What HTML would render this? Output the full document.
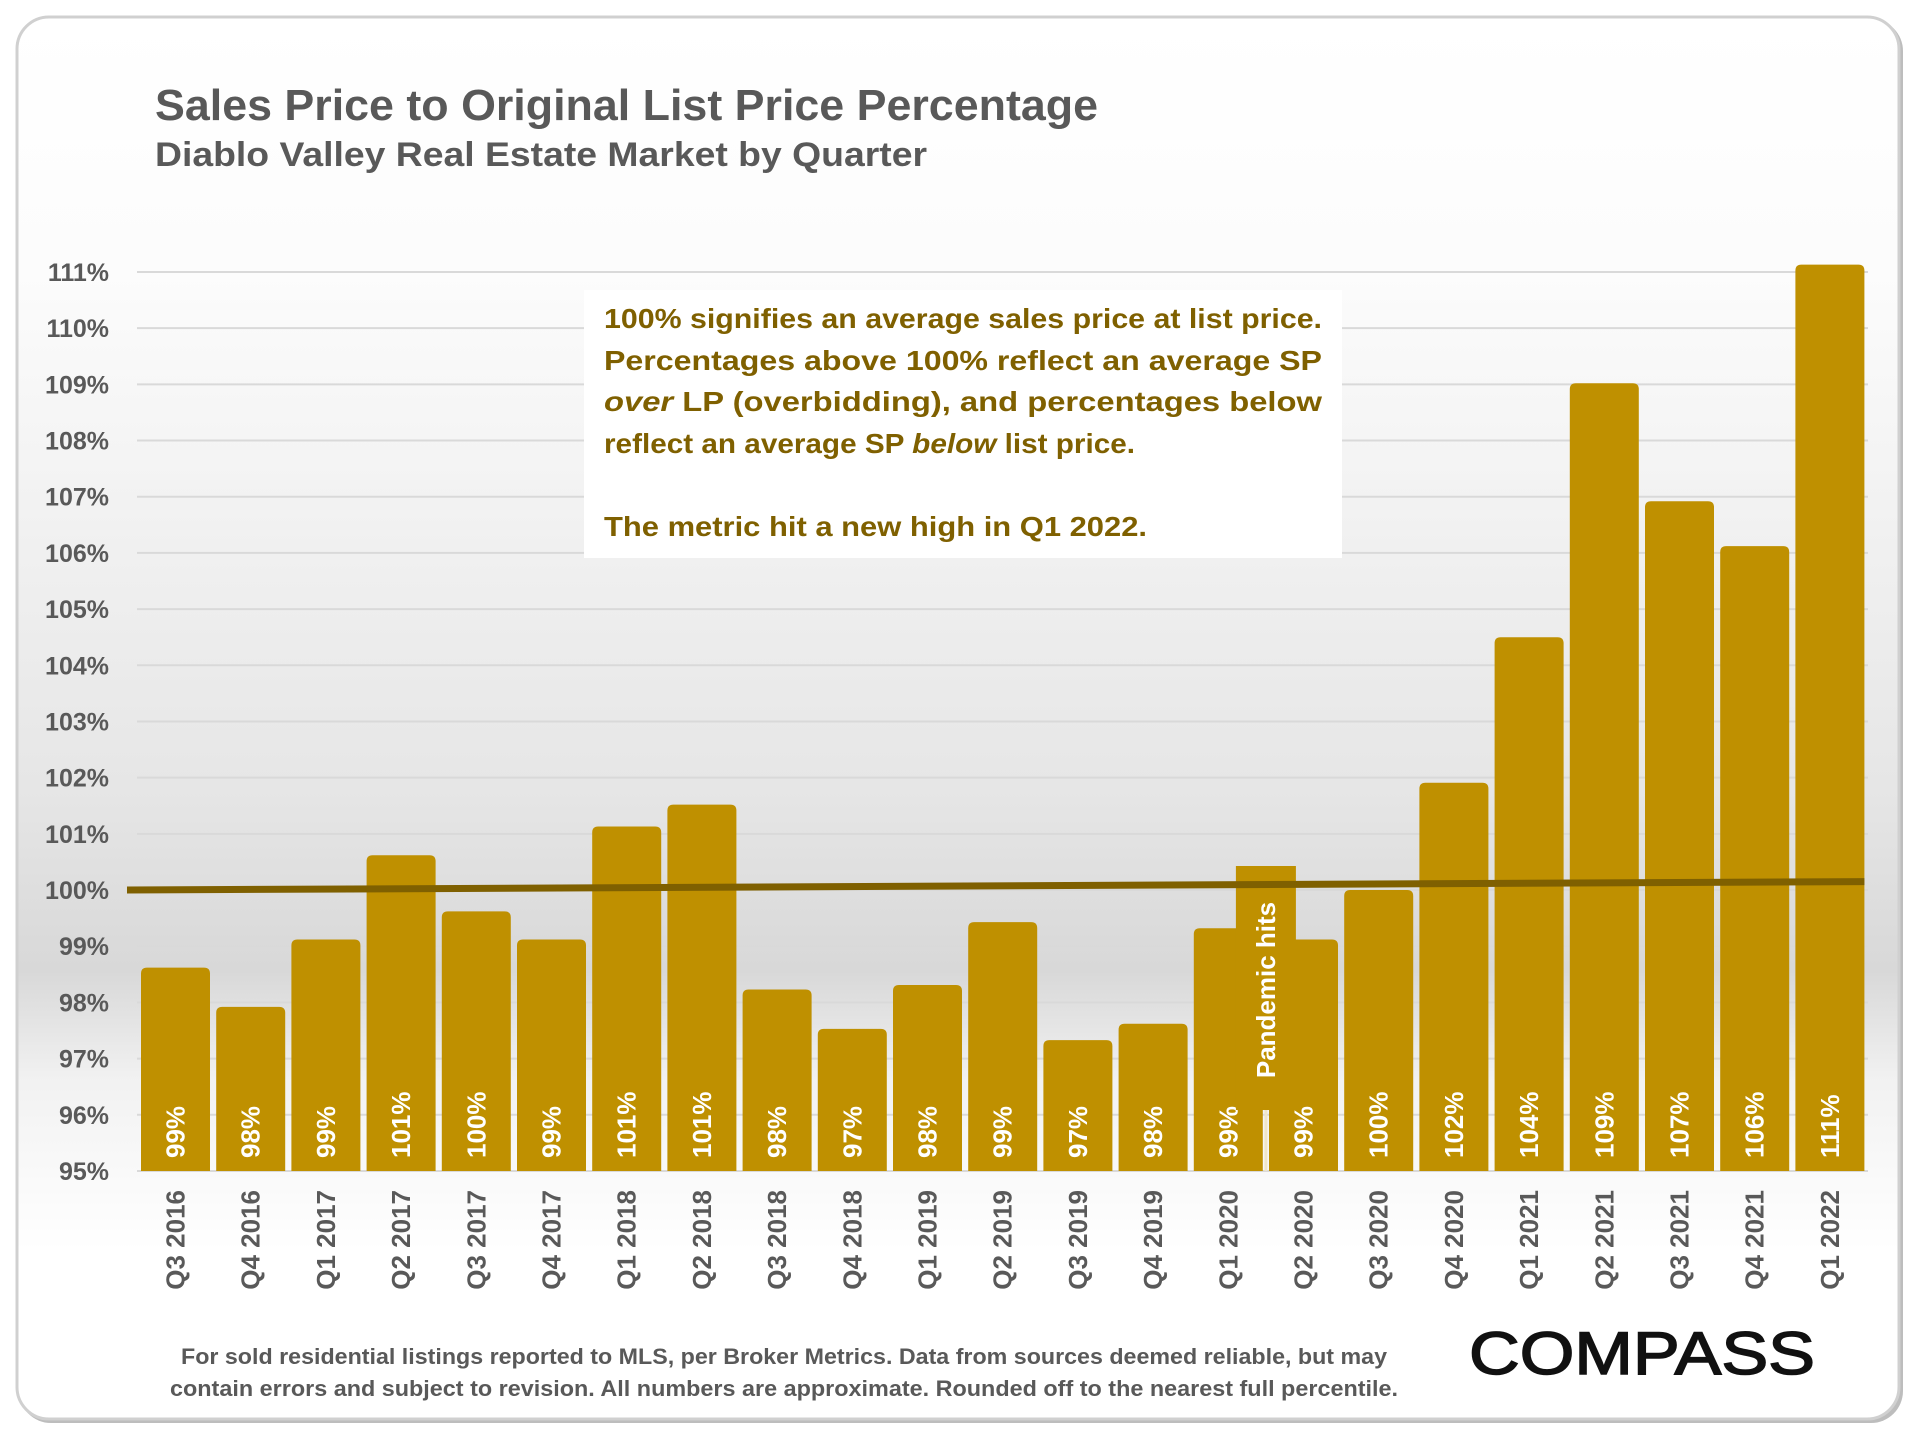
<!DOCTYPE html>
<html><head><meta charset="utf-8">
<style>
html,body{margin:0;padding:0;background:#fff;}
svg{display:block;font-family:"Liberation Sans",sans-serif;}
</style></head>
<body>
<svg id="chart" width="1920" height="1440" viewBox="0 0 1920 1440">
  <defs>
    <linearGradient id="bg" x1="0" y1="0" x2="0" y2="1">
      <stop offset="0" stop-color="#ffffff"/>
      <stop offset="0.18" stop-color="#fcfcfc"/>
      <stop offset="0.55" stop-color="#e6e6e6"/>
      <stop offset="0.68" stop-color="#d8d8d8"/>
      <stop offset="0.76" stop-color="#f2f2f2"/>
      <stop offset="0.88" stop-color="#ffffff"/>
      <stop offset="1" stop-color="#ffffff"/>
    </linearGradient>
  </defs>
  <rect x="19" y="19" width="1884" height="1404" rx="32" fill="#bdbdbd"/>
  <rect x="17" y="17" width="1882" height="1402" rx="32" fill="url(#bg)" stroke="#d0d0d0" stroke-width="3"/>
  <text x="155" y="120" font-size="44" font-weight="bold" fill="#595959" textLength="943" lengthAdjust="spacingAndGlyphs">Sales Price to Original List Price Percentage</text>
  <text x="155" y="166" font-size="34" font-weight="bold" fill="#595959" textLength="772" lengthAdjust="spacingAndGlyphs">Diablo Valley Real Estate Market by Quarter</text>
  <g id="grid"></g>
  <g id="yticks"></g>
  <g id="bars"></g>
  <g id="xlabels"></g>
  <g id="overlay"></g>
  <text x="784" y="1364" font-size="22" font-weight="bold" fill="#595959" text-anchor="middle" textLength="1206" lengthAdjust="spacingAndGlyphs">For sold residential listings reported to MLS, per Broker Metrics. Data from sources deemed reliable, but may</text>
  <text x="784" y="1396" font-size="22" font-weight="bold" fill="#595959" text-anchor="middle" textLength="1228" lengthAdjust="spacingAndGlyphs">contain errors and subject to revision. All numbers are approximate. Rounded off to the nearest full percentile.</text>
  <text x="1469" y="1374" font-size="60" fill="#111" stroke="#111" stroke-width="1.5" textLength="346" lengthAdjust="spacingAndGlyphs">COMPASS</text>
</svg>
<script>
const categories = ["Q3 2016","Q4 2016","Q1 2017","Q2 2017","Q3 2017","Q4 2017","Q1 2018","Q2 2018","Q3 2018","Q4 2018","Q1 2019","Q2 2019","Q3 2019","Q4 2019","Q1 2020","Q2 2020","Q3 2020","Q4 2020","Q1 2021","Q2 2021","Q3 2021","Q4 2021","Q1 2022"];
const values = [98.62,97.92,99.12,100.62,99.62,99.12,101.13,101.52,98.23,97.53,98.31,99.43,97.33,97.62,99.32,99.12,100.0,101.91,104.5,109.02,106.92,106.12,111.13];
const valueLabels = ["99%","98%","99%","101%","100%","99%","101%","101%","98%","97%","98%","99%","97%","98%","99%","99%","100%","102%","104%","109%","107%","106%","111%"];
const yTicks = [95,96,97,98,99,100,101,102,103,104,105,106,107,108,109,110,111];
const trendStart = 100.0;
const trendEnd = 100.15;

const NS = "http://www.w3.org/2000/svg";
const plotLeft = 137, plotRight = 1868, y0 = 1171, pxPer = 56.19, vMin = 95;
const pitch = 75.2, barW = 69, firstX = 141;
function yScale(v){ return y0 - (v - vMin) * pxPer; }
function xScale(i){ return firstX + i * pitch; }
function mk(tag, attrs, parent){ const e = document.createElementNS(NS, tag); for (const k in attrs) e.setAttribute(k, attrs[k]); parent.appendChild(e); return e; }

const grid = document.getElementById('grid');
const yt = document.getElementById('yticks');
yTicks.forEach(t => {
  const y = yScale(t);
  const l = mk('line', {x1: plotLeft, x2: plotRight, y1: y, y2: y, stroke: '#d9d9d9', 'stroke-width': 2}, grid);
  
  
  const tx = mk('text', {x: 109, y: y + 9, 'font-size': 25, 'font-weight': 'bold', fill: '#595959', 'text-anchor': 'end'}, yt);
  tx.textContent = t + '%';
  
  
});

const bars = document.getElementById('bars');
const xl = document.getElementById('xlabels');
values.forEach((v, i) => {
  const x = xScale(i), top = yScale(v), r = 6;
  const d = `M${x},${y0} L${x},${top + r} Q${x},${top} ${x + r},${top} L${x + barW - r},${top} Q${x + barW},${top} ${x + barW},${top + r} L${x + barW},${y0} Z`;
  const b = mk('path', {d: d, fill: '#bf9000'}, bars);
  
  
  const cx = x + barW / 2;
  const vl = mk('text', {x: 0, y: 0, 'font-size': 26, 'font-weight': 'bold', fill: '#ffffff', transform: `translate(${cx + 9},1158) rotate(-90)`}, bars);
  vl.textContent = valueLabels[i];
  
  
  const cl = mk('text', {x: 0, y: 0, 'font-size': 26, 'font-weight': 'bold', fill: '#595959', 'text-anchor': 'end', transform: `translate(${cx + 9},1190) rotate(-90)`}, xl);
  cl.textContent = categories[i];
  
  
});

const ov = document.getElementById('overlay');
const px = (xScale(14) + barW + xScale(15)) / 2;
const pb = mk('rect', {x: px - 30, y: 866, width: 60, height: 244, fill: '#bf9000'}, ov);


const pl = mk('line', {x1: px, x2: px, y1: 1110, y2: y0, stroke: '#f0e6c8', 'stroke-width': 3}, ov);


const tl = mk('line', {x1: plotLeft - 10, x2: xScale(22) + barW, y1: yScale(trendStart), y2: yScale(trendEnd), stroke: '#7f6000', 'stroke-width': 7}, ov);


const pt = mk('text', {x: 0, y: 0, 'font-size': 26, 'font-weight': 'bold', fill: '#ffffff', 'text-anchor': 'middle', transform: `translate(${px + 9},990) rotate(-90)`}, ov);
pt.textContent = 'Pandemic hits';



const nb = mk('rect', {x: 584, y: 290, width: 758, height: 268, fill: '#ffffff'}, ov);


const lines = [
  {y: 328, len: 718, html: '100% signifies an average sales price at list price.'},
  {y: 370, len: 718, html: 'Percentages above 100% reflect an average SP'},
  {y: 411, len: 718, html: '<tspan font-style="italic">over</tspan> LP (overbidding), and percentages below'},
  {y: 453, len: 531, html: 'reflect an average SP <tspan font-style="italic">below</tspan> list price.'},
  {y: 536, len: 543, html: 'The metric hit a new  high in Q1 2022.'}
];
lines.forEach(L => {
  const t = mk('text', {x: 604, y: L.y, 'font-size': 28, 'font-weight': 'bold', fill: '#7f6000', textLength: L.len, lengthAdjust: 'spacingAndGlyphs'}, ov);
  t.innerHTML = L.html;
  
  
});
</script>
</body></html>
